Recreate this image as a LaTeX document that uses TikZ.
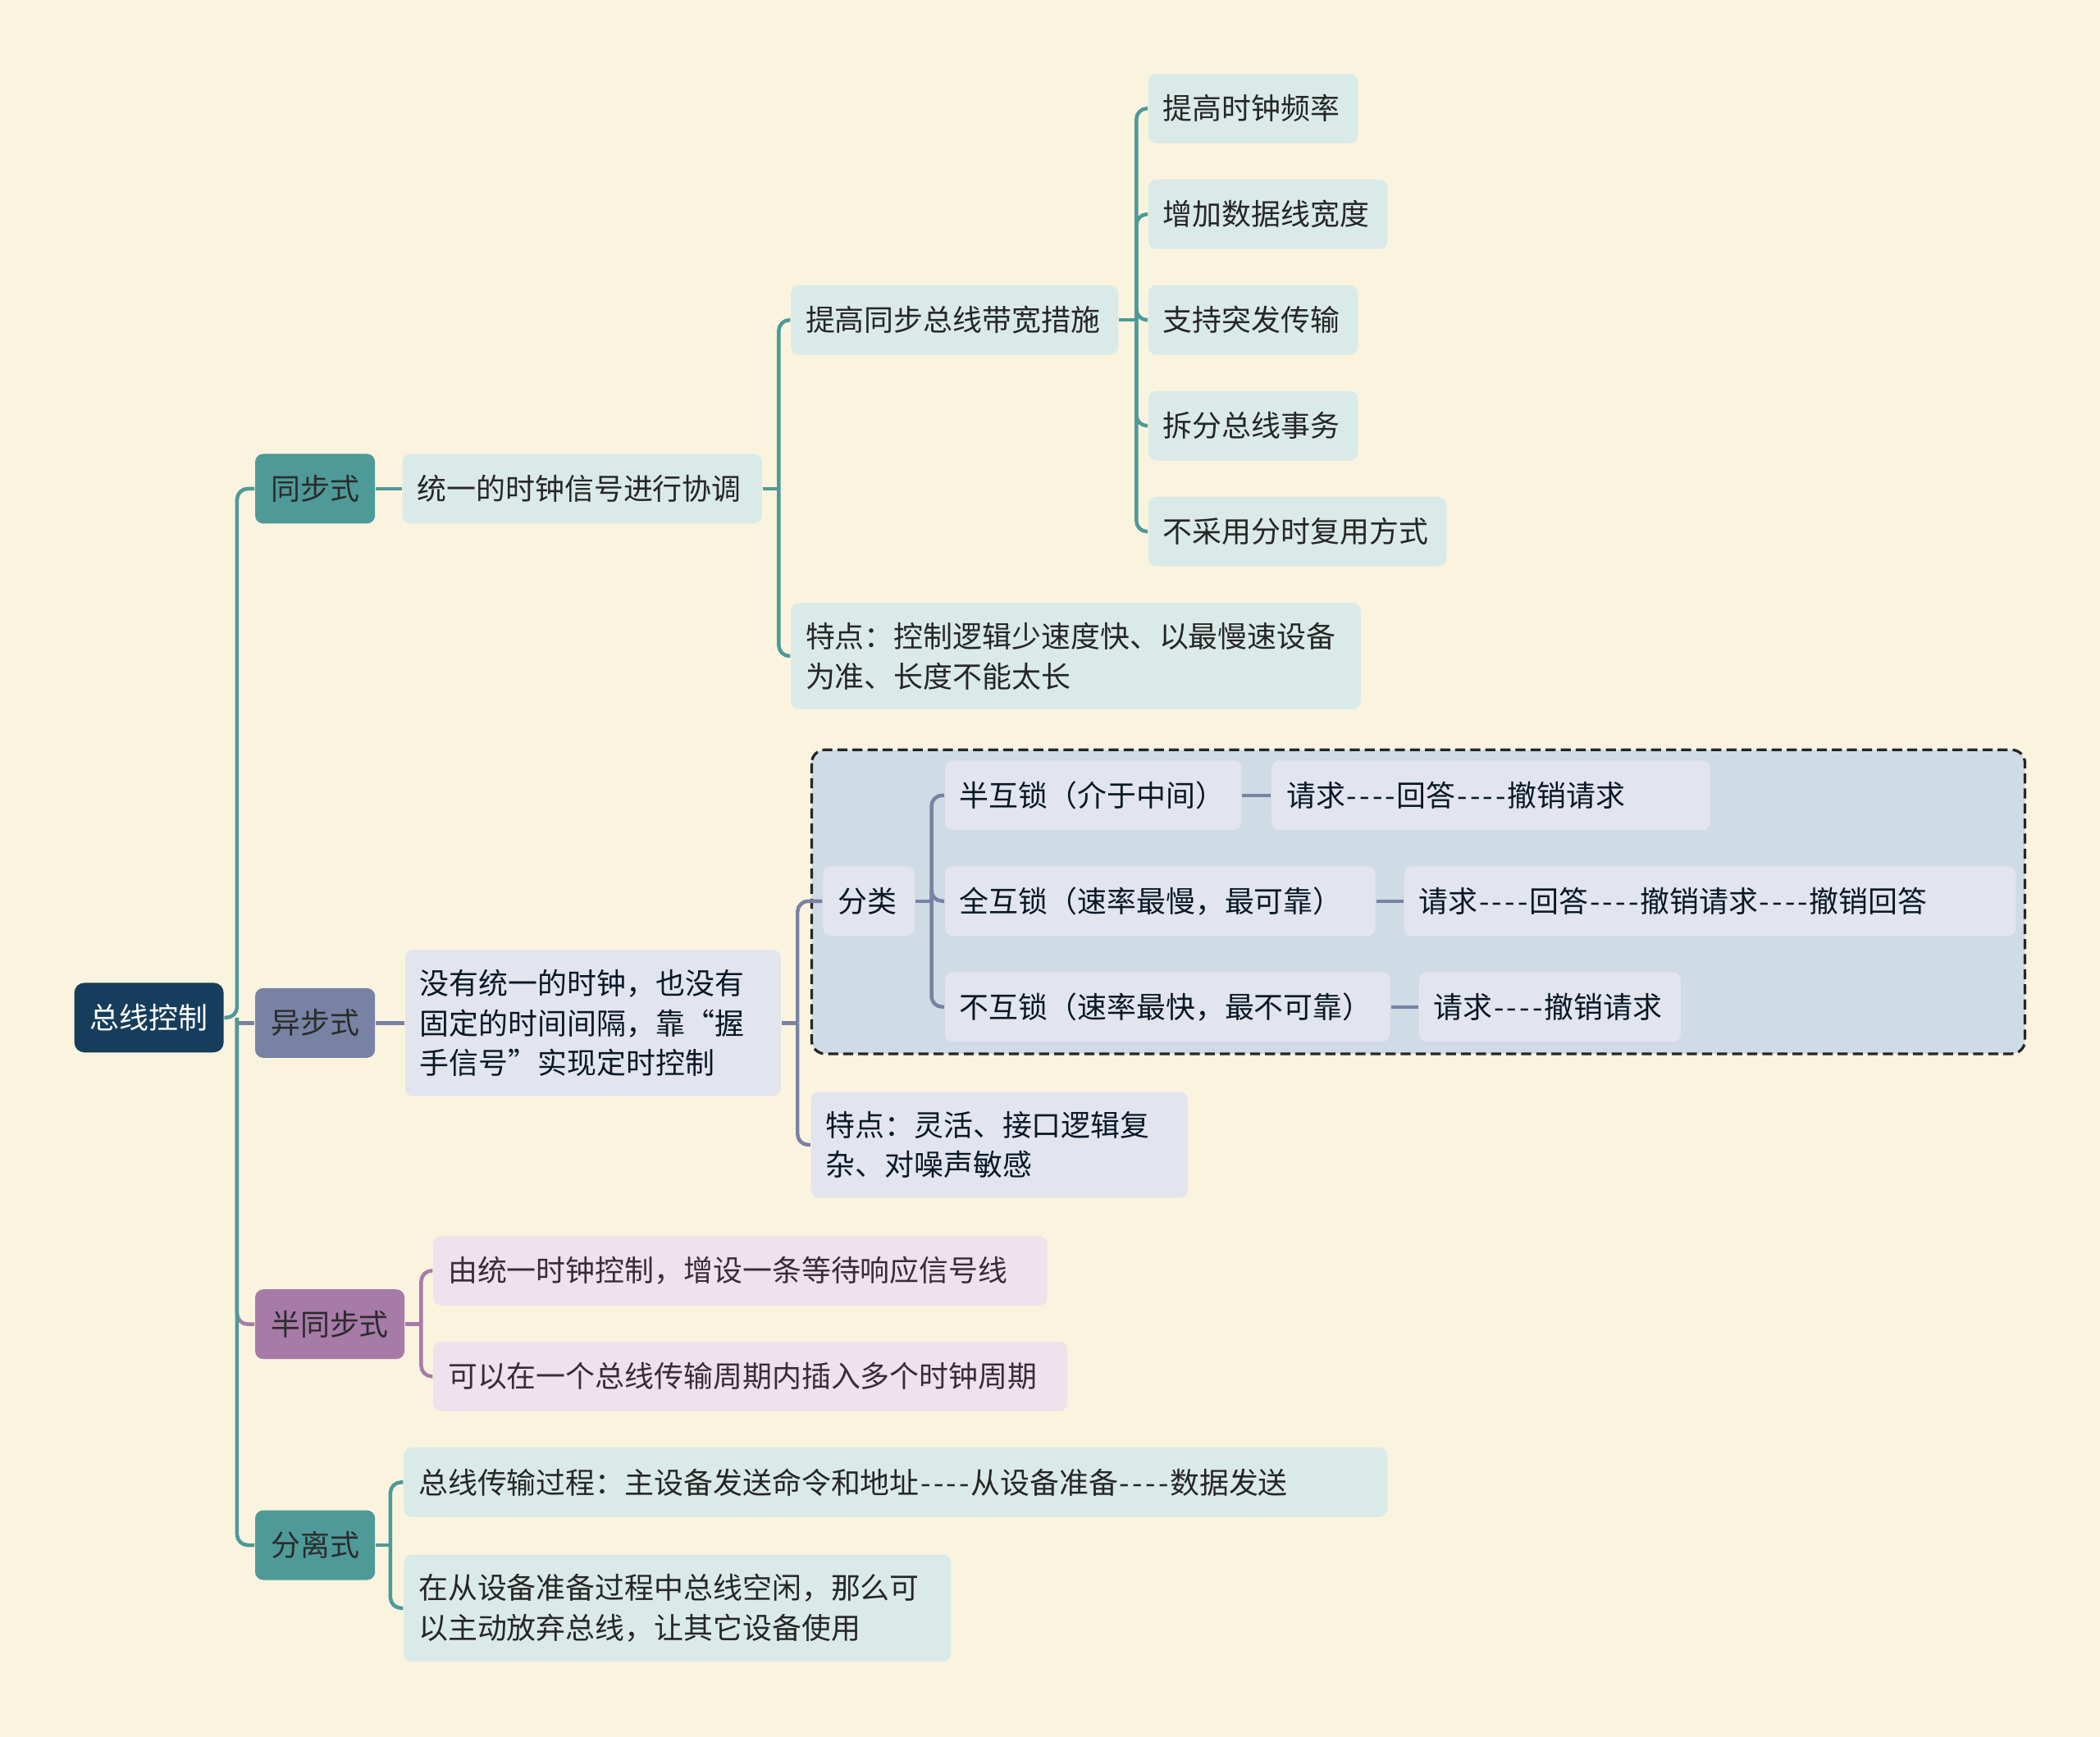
\documentclass[tikz,border=0pt]{standalone}
\usepackage{fontspec}
\setmainfont{Noto Sans CJK SC}
\definecolor{bgpaper}{HTML}{FAF4DF}
\definecolor{rootblue}{HTML}{173D5C}
\definecolor{tealmain}{HTML}{4E9A98}
\definecolor{tealsoft}{HTML}{DAEAE8}
\definecolor{slatemain}{HTML}{7882A4}
\definecolor{slatesoft}{HTML}{E3E5EE}
\definecolor{groupsoft}{HTML}{CFDBE5}
\definecolor{purplemain}{HTML}{A77BA8}
\definecolor{purplesoft}{HTML}{EFE2EC}
\definecolor{headtext}{HTML}{2B2B2B}
% vier Bindestriche ohne Ligatur
\newcommand{\qdash}{\kern0.4pt-\kern0.8pt-\kern0.8pt-\kern0.8pt-\kern0.4pt}

\tikzset{
  mmbox/.style={anchor=west, rounded corners=2.4pt, inner xsep=4.4pt, inner ysep=5.8pt,
    minimum height=20.8pt, align=left, font=\fontsize{8.8}{12}\selectfont},
  bw/.style={text width=#1*0.4pt-8.2pt},
  rootbox/.style={mmbox, fill=rootblue, text=white, align=center, rounded corners=3pt},
  tealhead/.style={mmbox, fill=tealmain, text=headtext, align=center},
  slatehead/.style={mmbox, fill=slatemain, text=headtext, align=center},
  purplehead/.style={mmbox, fill=purplemain, text=headtext, align=center},
  tealleaf/.style={mmbox, fill=tealsoft, text=black!85},
  slateleaf/.style={mmbox, fill=slatesoft, text=rootblue!40!black},
  purpleleaf/.style={mmbox, fill=purplesoft, text=purplemain!35!black},
  tealline/.style={draw=tealmain, line width=1.1pt, rounded corners=3.2pt},
  slateline/.style={draw=slatemain, line width=1.1pt, rounded corners=3.2pt},
  purpleline/.style={draw=purplemain, line width=1.1pt, rounded corners=3.2pt},
  grp/.style={draw=black!85, fill=groupsoft, line width=0.8pt, dash pattern=on 3pt off 1.5pt, rounded corners=4pt}
}

\begin{document}
\begin{tikzpicture}[x=0.4pt,y=-0.4pt]
  \fill[bgpaper] (0,0) rectangle (1568,1297);
  \useasboundingbox (0,0) rectangle (1568,1297);
  % Gruppe fuer die Handshake-Arten
  \draw[grp] (606,560) rectangle (1512,787);

  % Wurzel und erste Ebene
  \node[rootbox, bw=110] (root) at (55,760) {总线控制};
  \node[tealhead, bw=88] (sync) at (190,365) {同步式};
  \node[slatehead, bw=88] (async) at (190,764) {异步式};
  \node[purplehead, bw=110] (semi) at (190,989) {半同步式};
  \node[tealhead, bw=88] (split) at (190,1154) {分离式};

  % synchron
  \node[tealleaf, bw=267] (s1) at (300,365) {统一的时钟信号进行协调};
  \node[tealleaf, bw=243] (s2) at (590,239) {提高同步总线带宽措施};
  \node[tealleaf, bw=424] (s3) at (590,490) {特点：控制逻辑少速度快、以最慢速设备\\为准、长度不能太长};
  \node[tealleaf, bw=155] (t1) at (857,81) {提高时钟频率};
  \node[tealleaf, bw=177] (t2) at (857,160) {增加数据线宽度};
  \node[tealleaf, bw=155] (t3) at (857,239) {支持突发传输};
  \node[tealleaf, bw=155] (t4) at (857,318) {拆分总线事务};
  \node[tealleaf, bw=221] (t5) at (857,397) {不采用分时复用方式};

  % asynchron
  \node[slateleaf, bw=279] (a1) at (302,764) {没有统一的时钟，也没有\\固定的时间间隔，靠“握\\手信号”实现定时控制};
  \node[slateleaf, bw=67] (cls) at (614,673) {分类};
  \node[slateleaf, bw=280] (a3) at (605,855) {特点：灵活、接口逻辑复\\杂、对噪声敏感};
  \node[slateleaf, bw=220] (l1) at (705,594) {半互锁（介于中间）};
  \node[slateleaf, bw=320] (l2) at (705,673) {全互锁（速率最慢，最可靠）};
  \node[slateleaf, bw=331] (l3) at (705,752) {不互锁（速率最快，最不可靠）};
  \node[slateleaf, bw=326] (r1) at (949,594) {请求\qdash 回答\qdash 撤销请求};
  \node[slateleaf, bw=455] (r2) at (1048,673) {请求\qdash 回答\qdash 撤销请求\qdash 撤销回答};
  \node[slateleaf, bw=194] (r3) at (1059,752) {请求\qdash 撤销请求};

  % halbsynchron
  \node[purpleleaf, bw=457] (p1) at (323,949) {由统一时钟控制，增设一条等待响应信号线};
  \node[purpleleaf, bw=472] (p2) at (323,1028) {可以在一个总线传输周期内插入多个时钟周期};

  % getrennt
  \node[tealleaf, bw=733] (d1) at (301,1107) {总线传输过程：主设备发送命令和地址\qdash 从设备准备\qdash 数据发送};
  \node[tealleaf, bw=407] (d2) at (301,1201) {在从设备准备过程中总线空闲，那么可\\以主动放弃总线，让其它设备使用};

  % Verbindungen Wurzel
  \coordinate (rt) at (177,760);
  \draw[slateline] (rt |- async.west) -- (async.west);
  \draw[purpleline] (rt) |- (semi.west);
  \draw[tealline] (root.east) -- (rt) |- (sync.west);
  \draw[tealline] (rt) |- (split.west);

  % Verbindungen synchron
  \draw[tealline] (sync.east) -- (s1.west);
  \draw[tealline] (s1.east) -- ++(12,0) coordinate (s1t);
  \draw[tealline] (s1t) |- (s2.west);
  \draw[tealline] (s1t) |- (s3.west);
  \draw[tealline] (s2.east) -- ++(13,0) coordinate (s2t);
  \draw[tealline] (s2t) |- (t1.west);
  \draw[tealline] (s2t) |- (t2.west);
  \draw[tealline] (s2t) |- (t3.west);
  \draw[tealline] (s2t) |- (t4.west);
  \draw[tealline] (s2t) |- (t5.west);

  % Verbindungen asynchron
  \draw[slateline] (async.east) -- (a1.west);
  \draw[slateline] (a1.east) -- ++(12,0) coordinate (a1t);
  \draw[slateline] (a1t) |- (cls.west);
  \draw[slateline] (a1t) |- (a3.west);
  \draw[slateline] (cls.east) -- ++(12,0) coordinate (clst);
  \draw[slateline] (clst) |- (l1.west);
  \draw[slateline] (clst) |- (l2.west);
  \draw[slateline] (clst) |- (l3.west);
  \draw[slateline] (l1.east) -- (r1.west);
  \draw[slateline] (l2.east) -- (r2.west);
  \draw[slateline] (l3.east) -- (r3.west);

  % Verbindungen halbsynchron und getrennt
  \draw[purpleline] (semi.east) -- ++(12,0) coordinate (semit);
  \draw[purpleline] (semit) |- (p1.west);
  \draw[purpleline] (semit) |- (p2.west);
  \draw[tealline] (split.east) -- ++(11,0) coordinate (splitt);
  \draw[tealline] (splitt) |- (d1.west);
  \draw[tealline] (splitt) |- (d2.west);
\end{tikzpicture}
\end{document}
